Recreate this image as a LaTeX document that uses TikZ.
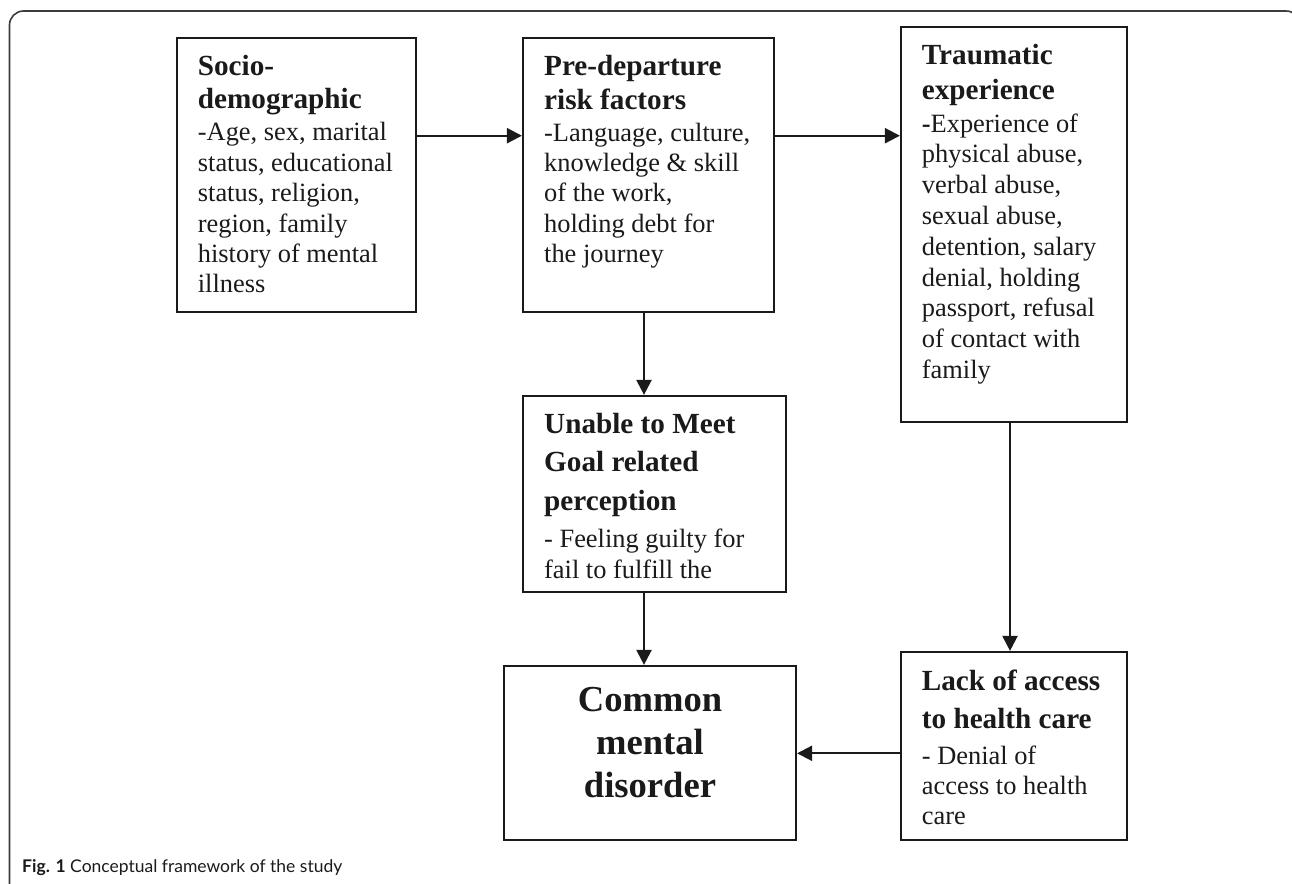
\documentclass[tikz,border=0pt]{standalone}
\usepackage{fontspec}
\setmainfont{Liberation Serif}
\newfontfamily\capfont{Lato}
\usetikzlibrary{arrows.meta,calc}
\definecolor{ink}{HTML}{1A1A1A}
\newcommand{\hd}[1]{\fontsize{29.2}{#1}\selectfont\bfseries}
\newcommand{\bd}[1]{\fontsize{26.4}{#1}\selectfont\mdseries}
\begin{document}
\begin{tikzpicture}[x=1pt,y=-1pt,
  box/.style={draw=ink,line width=2.2pt,rectangle,inner sep=0pt},
  arr/.style={draw=ink,line width=2.2pt,-{Triangle[length=15pt,width=15pt]}},
  txt/.style={inner sep=0pt,text=ink,anchor=base west},
  frame/.style={draw=ink!85,line width=1.6pt,rounded corners=14pt}]
\useasboundingbox (0,0) rectangle (1292,883);
\clip (0,0) rectangle (1292,883);
\draw[frame] (9.5,900) -- (9.5,11) -- (1300,11) -- (1300,900);
% boxes
\node[box,minimum width=239pt,minimum height=274pt] (soc) at (296.5,175) {};
\node[box,minimum width=251pt,minimum height=274pt] (pre) at (648.5,175) {};
\node[box,minimum width=226pt,minimum height=395pt] (trau) at (1014,224.5) {};
\node[box,minimum width=263pt,minimum height=196pt] (goal) at (654.5,494) {};
\node[box,minimum width=292pt,minimum height=174pt] (cmd) at (650,753) {};
\node[box,minimum width=226pt,minimum height=188pt] (lack) at (1014,746) {};
% texts
\node[txt] (soct) at (197.7,75) {\parbox[t]{230pt}{\raggedright
  \hd{33}Socio-\\demographic\par\vspace{2.2pt}
  \bd{30.45}-Age, sex, marital\\status, educational\\status, religion,\\region, family\\history of mental\\illness}};
\node[txt] (pret) at (544,75) {\parbox[t]{240pt}{\raggedright
  \hd{34}Pre-departure\\risk factors\par\vspace{2.2pt}
  \bd{30.2}-Language, culture,\\knowledge \& skill\\of the work,\\holding debt for\\the journey}};
\node[txt] (traut) at (921.7,65) {\parbox[t]{220pt}{\raggedright
  \hd{34}Traumatic\\experience\par\vspace{2.2pt}
  \bd{30.8}\textbf{-}Experience of\\physical abuse,\\verbal abuse,\\sexual abuse,\\detention, salary\\denial, holding\\passport, refusal\\of contact with\\family}};
\node[txt] (goalt) at (544,433) {\parbox[t]{250pt}{\raggedright
  \hd{38.5}Unable to Meet\\Goal related\\perception\par\vspace{6pt}
  \bd{31}- Feeling guilty for\\fail to fulfill the}};
\node[inner sep=0pt,text=ink,anchor=base] (cmdt) at (650,711.7) {\parbox[t]{280pt}{\centering
  \fontsize{36.6}{42.8}\selectfont\bfseries Common\\mental\\disorder}};
\node[txt] (lackt) at (921.7,690) {\parbox[t]{220pt}{\raggedright
  \hd{38.3}Lack of access\\to health care\par\vspace{6.2pt}
  \bd{30}- Denial of\\access to health\\care}};
\node[anchor=base west,inner sep=0pt,text=ink] (cap) at (22,872)
  {\capfont\fontsize{17.5}{20}\selectfont\textbf{Fig. 1} Conceptual framework of the study};
% connectors
\draw[arr] ([yshift=39.3pt]soc.east) -- ([yshift=39.3pt]soc.east -| pre.west);
\draw[arr] ([yshift=39.3pt]pre.east) -- ([yshift=39.3pt]pre.east -| trau.west);
\draw[arr] ([xshift=-4.5pt]pre.south) -- ([xshift=-4.5pt]pre.south |- goal.north);
\draw[arr] ([xshift=-10.5pt]goal.south) -- ([xshift=-10.5pt]goal.south |- cmd.north);
\draw[arr] ([xshift=-4pt]trau.south) -- ([xshift=-4pt]trau.south |- lack.north);
\draw[arr] ([yshift=-7.3pt]lack.west) -- ([yshift=-7.3pt]lack.west -| cmd.east);
\end{tikzpicture}
\end{document}
